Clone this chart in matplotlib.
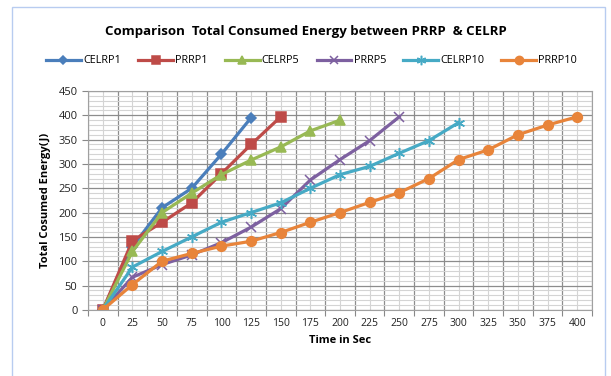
import numpy as np
import matplotlib
matplotlib.use("Agg")
import matplotlib.pyplot as plt
from matplotlib.patches import Rectangle

plt.rcParams['font.family'] = ['Open Sans', 'DejaVu Sans']

# categories (Time in Sec)
time_labels = [0, 25, 50, 75, 100, 125, 150, 175, 200, 225, 250, 275, 300, 325, 350, 375, 400]
celrp1 = [0, 130, 210, 250, 320, 395]
prrp1 = [0, 142, 180, 220, 280, 340, 397]
celrp5 = [0, 120, 200, 240, 278, 308, 335, 368, 390]
prrp5 = [0, 67, 93, 113, 138, 170, 208, 267, 309, 348, 397]
celrp10 = [0, 88, 120, 150, 180, 200, 220, 250, 278, 295, 322, 348, 385]
prrp10 = [0, 52, 100, 116, 131, 141, 159, 180, 200, 221, 241, 270, 309, 329, 360, 380, 397]

series = [
    ("CELRP1", celrp1, "#4A7EBB", "D", 5),
    ("PRRP1", prrp1, "#BE4B48", "s", 7),
    ("CELRP5", celrp5, "#98B954", "^", 7),
    ("PRRP5", prrp5, "#7D60A0", "x", 7),
    ("CELRP10", celrp10, "#46AAC5", (6, 2, 0), 8),
    ("PRRP10", prrp10, "#E8843A", "o", 7),
]

fig = plt.figure(figsize=(6.11, 3.76), dpi=100)
ax = fig.add_axes([0.144, 0.176, 0.825, 0.582])

for name, vals, col, mk, ms in series:
    x = np.arange(len(vals))
    ax.plot(x, vals, color=col, lw=2.3, marker=mk, ms=ms, mec=col, mfc=col,
            mew=1.1, label=name)

n = len(time_labels)
ax.set_xlim(-0.5, n - 0.5)
ax.set_ylim(0, 450)

# category axis: ticks between categories, labels at centres
ax.set_xticks(np.arange(n + 1) - 0.5)
ax.set_xticklabels([])
ax.set_xticks(np.arange(n), minor=True)
ax.set_xticklabels([str(t) for t in time_labels], minor=True, fontsize=7.5, color="#222")
ax.tick_params(axis="x", which="minor", length=0, pad=6)
ax.tick_params(axis="x", which="major", length=4, color="#888", direction="out")

ax.set_yticks(np.arange(0, 451, 50))
ax.set_yticks(np.arange(0, 451, 10), minor=True)
ax.tick_params(axis="y", which="major", labelsize=8, length=4, color="#888", labelcolor="#222")
ax.tick_params(axis="y", which="minor", length=0)

ax.grid(which="major", color="#8C8C8C", lw=0.9)
ax.grid(which="minor", color="#D4D4D4", lw=0.8)
ax.set_axisbelow(True)
for s in ax.spines.values():
    s.set_color("#A0A0A0")
    s.set_linewidth(0.8)

ax.set_xlabel("Time in Sec", fontsize=8, fontweight="bold", labelpad=4)
ax.set_ylabel("Total Cosumed Energy(J)", fontsize=8, fontweight="bold", labelpad=5)

fig.text(0.5, 0.915, "Comparison  Total Consumed Energy between PRRP  & CELRP",
         ha="center", va="center", fontsize=9.5, fontweight="bold")
fig.legend(loc="center", bbox_to_anchor=(0.51, 0.838), ncol=6, frameon=False,
           fontsize=7.8, handlelength=3.2, handletextpad=0.2, columnspacing=1.6,
           markerscale=0.85)

fig.patches.append(Rectangle((12 / 611, -0.02), (605 - 12) / 611, 1.02 - 7 / 376,
                             transform=fig.transFigure, fill=False,
                             edgecolor="#B8CCF0", lw=1.0))

fig.savefig("out.png", dpi=100)
